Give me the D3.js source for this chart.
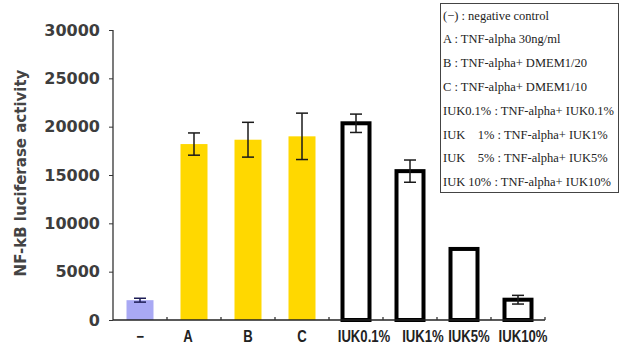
<!DOCTYPE html>
<html>
<head>
<meta charset="utf-8">
<script src="https://cdn.jsdelivr.net/npm/d3@7"></script>
<style>
  body { margin: 0; background: #fff; }
  svg { display: block; }
</style>
</head>
<body>
<div id="chart"></div>
<script>
/* chart data */
var categories = ["\u2212", "A", "B", "C", "IUK0.1%", "IUK1%", "IUK5%", "IUK10%"];
var values = [2050, 18200, 18650, 19000, 20350, 15400, 7350, 2100];
var errors = [200, 1150, 1800, 2400, 950, 1150, 0, 450];
var yTicks = [0, 5000, 10000, 15000, 20000, 25000, 30000];
var legendLines = [
  "(\u2212) : negative control",
  "A : TNF-alpha 30ng/ml",
  "B : TNF-alpha+ DMEM1/20",
  "C : TNF-alpha+ DMEM1/10",
  "IUK0.1% : TNF-alpha+ IUK0.1%",
  "IUK\u00a0\u00a0\u00a0 1% : TNF-alpha+ IUK1%",
  "IUK\u00a0\u00a0\u00a0 5% : TNF-alpha+ IUK5%",
  "IUK 10% : TNF-alpha+ IUK10%"
];

// layout only: label nudges (the source labels are not centred on bars)
var labelShift = [0, -6, 0, 0, 8, 13, 5, 5];

var width = 621, height = 344;

var svg = d3.select("#chart").append("svg")
  .attr("width", width)
  .attr("height", height);

var x = d3.scaleBand()
  .domain(categories)
  .range([113, 545])
  .paddingInner(0.5)
  .paddingOuter(0.25);

var y = d3.scaleLinear()
  .domain([0, 30000])
  .range([320, 30]);

function fillOf(i) {
  if (i == 0) return "#a9a9f4";
  if (i < 4) return "#ffd800";
  return "#fff";
}

// bars
svg.selectAll("rect.bar")
  .data(values)
  .enter().append("rect")
  .attr("class", "bar")
  .attr("x", function(d, i) { return x(categories[i]); })
  .attr("width", x.bandwidth())
  .attr("y", function(d) { return y(d); })
  .attr("height", function(d) { return y(0) - y(d); })
  .style("fill", function(d, i) { return fillOf(i); })
  .style("stroke", function(d, i) { return i > 3 ? "#000" : "none"; })
  .style("stroke-width", 4);

// error bars
svg.selectAll("g.err")
  .data(values)
  .enter().append("g")
  .attr("class", "err")
  .style("stroke", function(d, i) { return i == 0 ? "#1c1c55" : "#1a1a1a"; })
  .style("stroke-width", 1.5)
  .each(function(d, i) {
    var e = errors[i];
    if (!e) return;
    var g = d3.select(this);
    var cx = x(categories[i]) + x.bandwidth() / 2;
    g.append("line").attr("x1", cx).attr("x2", cx)
      .attr("y1", y(d + e)).attr("y2", y(d - e));
    g.append("line").attr("x1", cx - 6).attr("x2", cx + 6)
      .attr("y1", y(d + e)).attr("y2", y(d + e));
    g.append("line").attr("x1", cx - 6).attr("x2", cx + 6)
      .attr("y1", y(d - e)).attr("y2", y(d - e));
  });

// y axis
var yAxis = svg.append("g")
  .attr("transform", "translate(113,0)")
  .call(d3.axisLeft(y).tickValues(yTicks).tickSize(4).tickPadding(9)
    .tickFormat(function(d) { return d; }));
yAxis.select(".domain").attr("d", "M0," + y(30000) + "V" + y(0))
  .style("stroke", "#333").style("stroke-width", 1.3);
yAxis.selectAll(".tick line").style("stroke", "#333");
yAxis.selectAll("text")
  .style("font-family", "'DejaVu Sans', sans-serif")
  .style("font-weight", "bold")
  .style("font-size", "16px")
  .style("fill", "#3d3d3d");

// x axis baseline + small up ticks at cell boundaries
svg.append("line")
  .attr("x1", 113).attr("x2", 545)
  .attr("y1", y(0)).attr("y2", y(0))
  .style("stroke", "#222").style("stroke-width", 1.5);

var half = (x.step() - x.bandwidth()) / 2;
svg.selectAll("line.xt")
  .data(categories)
  .enter().append("line")
  .attr("class", "xt")
  .attr("x1", function(d) { return x(d) + x.bandwidth() + half; })
  .attr("x2", function(d) { return x(d) + x.bandwidth() + half; })
  .attr("y1", y(0)).attr("y2", y(0) - 3)
  .style("stroke", "#333").style("stroke-width", 1.3);

// x labels (source font is a condensed bold sans, so squeeze it)
svg.selectAll("text.xl")
  .data(categories)
  .enter().append("text")
  .attr("class", "xl")
  .attr("x", function(d, i) { return x(d) + x.bandwidth() / 2 + labelShift[i]; })
  .attr("y", 341.5)
  .attr("text-anchor", "middle")
  .style("font-family", "'Liberation Sans', Arial, sans-serif")
  .style("font-weight", "bold")
  .style("font-size", "16px")
  .style("fill", "#222")
  .text(function(d) { return d; })
  .each(function() {
    var w = this.getComputedTextLength();
    d3.select(this).attr("textLength", w * 0.82).attr("lengthAdjust", "spacingAndGlyphs");
  });

// y title
svg.append("text")
  .attr("transform", "translate(26,173) rotate(-90)")
  .attr("text-anchor", "middle")
  .style("font-family", "'DejaVu Sans', sans-serif")
  .style("font-weight", "bold")
  .style("font-size", "15px")
  .style("fill", "#444")
  .text("NF-kB luciferase activity");

// legend box
var lg = svg.append("g");
lg.append("rect")
  .attr("x", 440.5).attr("y", 3.5)
  .attr("width", 178).attr("height", 189)
  .style("fill", "#fff")
  .style("stroke", "#444");

lg.selectAll("text")
  .data(legendLines)
  .enter().append("text")
  .attr("x", 443)
  .attr("y", function(d, i) { return 19.5 + i * 23.8; })
  .style("font-family", "'Liberation Serif', 'DejaVu Serif', serif")
  .style("font-size", "12.5px")
  .style("fill", "#222")
  .text(function(d) { return d; });
</script>
</body>
</html>
